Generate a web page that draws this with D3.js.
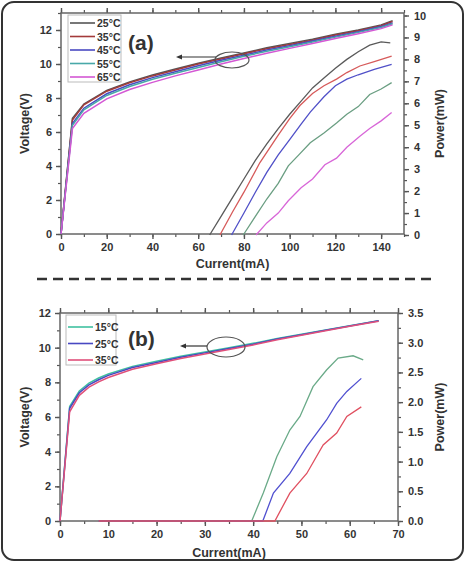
<!DOCTYPE html>
<html>
<head>
<meta charset="utf-8">
<script src="https://cdn.jsdelivr.net/npm/d3@7"></script>
<style>
  body { margin: 0; background: #fff; }
  text { font-family: "Liberation Sans", Arial, sans-serif; font-weight: bold; fill: #333; }
</style>
</head>
<body>
<div id="chart"></div>
<script>
// ---- panel (a) data ----
const topCurrent = [0, 5, 10, 20, 30, 40, 50, 60, 70, 80, 90, 100, 110, 120, 130, 140, 145];
const topV25 = [0, 6.8, 7.65, 8.45, 8.95, 9.35, 9.7, 10.05, 10.35, 10.65, 10.95, 11.2, 11.45, 11.75, 12.0, 12.3, 12.55];
const topV35 = [0, 6.7, 7.6, 8.4, 8.9, 9.3, 9.65, 10.0, 10.3, 10.6, 10.9, 11.15, 11.4, 11.7, 11.95, 12.25, 12.5];
const topV45 = [0, 6.5, 7.4, 8.25, 8.78, 9.2, 9.55, 9.9, 10.22, 10.52, 10.82, 11.08, 11.35, 11.63, 11.9, 12.2, 12.42];
const topV55 = [0, 6.4, 7.3, 8.15, 8.68, 9.1, 9.45, 9.8, 10.13, 10.45, 10.75, 11.02, 11.3, 11.58, 11.86, 12.15, 12.37];
const topV65 = [0, 6.2, 7.1, 7.95, 8.5, 8.92, 9.3, 9.65, 10.0, 10.32, 10.63, 10.92, 11.2, 11.5, 11.78, 12.08, 12.3];

// [current, power]
const topP25 = [[65,0],[70,0.85],[75,1.7],[80,2.55],[85,3.4],[90,4.15],[95,4.85],[100,5.5],[105,6.1],[110,6.7],[115,7.15],[120,7.6],[125,8.0],[130,8.35],[135,8.65],[140,8.8],[144,8.75]];
const topP35 = [[69.5,0],[75,1.05],[80,1.95],[87,3.3],[95,4.55],[100,5.3],[104.5,5.9],[110,6.45],[115,6.8],[120.5,7.1],[125,7.4],[130.7,7.7],[137,7.9],[144.6,8.15]];
const topP45 = [[74.6,0],[80,1.0],[85,1.95],[90,2.85],[95,3.65],[100,4.35],[105,5.05],[109,5.6],[115,6.3],[120,6.8],[125,7.1],[130,7.3],[137,7.55],[144.6,7.77]];
const topP55 = [[79.7,0],[85,0.85],[90,1.64],[95,2.35],[99.4,3.15],[104,3.65],[109,4.2],[115,4.65],[120.5,5.1],[125,5.5],[130,5.85],[135,6.4],[140,6.65],[144.6,6.94]];
const topP65 = [[85.3,0],[90,0.55],[95,1.0],[99.4,1.56],[105,2.15],[110,2.55],[115.4,3.2],[120.5,3.5],[125,4.0],[130.7,4.5],[135,4.85],[140,5.2],[144.6,5.58]];
const topLabels = ["25°C", "35°C", "45°C", "55°C", "65°C"];

// ---- panel (b) data ----
const botCurrent = [0, 2, 4, 6, 8, 10, 15, 20, 25, 30, 35, 40, 45, 50, 55, 60, 66];
const botV15 = [0, 6.6, 7.5, 7.95, 8.25, 8.48, 8.92, 9.22, 9.5, 9.75, 10.0, 10.25, 10.53, 10.78, 11.02, 11.27, 11.56];
const botV25 = [0, 6.5, 7.4, 7.85, 8.15, 8.4, 8.85, 9.15, 9.45, 9.7, 9.95, 10.2, 10.5, 10.75, 11.0, 11.25, 11.55];
const botV35 = [0, 6.3, 7.25, 7.72, 8.03, 8.28, 8.75, 9.07, 9.37, 9.63, 9.9, 10.16, 10.46, 10.72, 10.97, 11.23, 11.53];

const botP15 = [[8,0],[39.7,0],[42.1,0.47],[44.9,1.08],[47.6,1.53],[49.7,1.76],[52.4,2.26],[55.2,2.54],[57.6,2.74],[60.7,2.78],[62.8,2.71]];
const botP25 = [[8,0],[42,0],[44.2,0.47],[47.6,0.8],[51.1,1.25],[55.2,1.7],[57.3,1.98],[59.4,2.18],[62.4,2.4]];
const botP35 = [[8,0],[44.5,0],[47.6,0.47],[51.1,0.8],[54.5,1.28],[57.3,1.48],[59.4,1.76],[62.4,1.92]];
const botLabels = ["15°C", "25°C", "35°C"];

const topXTicks = [0, 20, 40, 60, 80, 100, 120, 140];
const topYTicks = [0, 2, 4, 6, 8, 10, 12];
const topPTicks = [0, 1, 2, 3, 4, 5, 6, 7, 8, 9, 10];
const botXTicks = [0, 10, 20, 30, 40, 50, 60, 70];
const botYTicks = [0, 2, 4, 6, 8, 10, 12];
const botPTicks = [0, 0.5, 1, 1.5, 2, 2.5, 3, 3.5];

var W = 469, H = 563;
var svg = d3.select("#chart").append("svg").attr("width", W).attr("height", H);

// outer rounded frame
svg.append("rect")
  .attr("x", 2).attr("y", 2).attr("width", 461).attr("height", 558)
  .attr("rx", 12).attr("fill", "none").attr("stroke", "#333").attr("stroke-width", 2);

// dashed separator
svg.append("line")
  .attr("x1", 37).attr("x2", 436).attr("y1", 279).attr("y2", 279)
  .attr("stroke", "#333").attr("stroke-width", 2.5).attr("stroke-dasharray", "10,6");

function drawPanel(p) {
  var x = d3.scaleLinear().domain(p.xDomain).range(p.xRange);
  var yL = d3.scaleLinear().domain(p.yDomain).range(p.yRange);
  var yR = d3.scaleLinear().domain(p.pDomain).range(p.pRange);
  var g = svg.append("g");
  var x0 = p.xRange[0], x1 = p.xRange[1], y0 = p.yRange[0], y1 = p.yRange[1];

  // minor ticks
  function minor(axis, scale, step, size) {
    var d = scale.domain(), vals = [];
    for (var v = d[0]; v <= d[1] + 1e-9; v += step) vals.push(v);
    return axis(scale).tickValues(vals).tickSize(size).tickFormat("");
  }
  var axes = [
    [d3.axisBottom, x, p.xMinor, 3, "translate(0," + y0 + ")"],
    [d3.axisBottom, x, p.xMinor, -3, "translate(0," + y1 + ")"],
    [d3.axisLeft, yL, p.yMinor, 3, "translate(" + x0 + ",0)"],
    [d3.axisRight, yR, p.pMinor, 3, "translate(" + x1 + ",0)"]
  ];
  axes.forEach(function (a) {
    var ag = g.append("g").attr("transform", a[4]).call(minor(a[0], a[1], a[2], a[3]));
    ag.select(".domain").remove();
    ag.selectAll("line").attr("stroke", "#555").attr("stroke-width", 1.2);
  });

  var xb = g.append("g").attr("transform", "translate(0," + y0 + ")")
    .call(d3.axisBottom(x).tickValues(p.xTicks).tickSize(5).tickPadding(4));
  var xt = g.append("g").attr("transform", "translate(0," + y1 + ")")
    .call(d3.axisBottom(x).tickValues(p.xTicks).tickSize(-5).tickFormat(""));
  var yl = g.append("g").attr("transform", "translate(" + x0 + ",0)")
    .call(d3.axisLeft(yL).tickValues(p.yTicks).tickSize(5).tickPadding(4));
  var yr = g.append("g").attr("transform", "translate(" + x1 + ",0)")
    .call(d3.axisRight(yR).tickValues(p.pTicks).tickSize(5).tickPadding(5).tickFormat(p.pFormat));
  [xb, xt, yl, yr].forEach(function (a) {
    a.select(".domain").remove();
    a.selectAll("line").attr("stroke", "#555").attr("stroke-width", 1.4);
    a.selectAll("text").attr("font-size", 11).attr("fill", "#333")
      .attr("font-family", "Liberation Sans, Arial, sans-serif").attr("font-weight", "bold");
  });

  // plot frame
  g.append("rect").attr("x", x0).attr("y", y1).attr("width", x1 - x0).attr("height", y0 - y1)
    .attr("fill", "none").attr("stroke", "#666").attr("stroke-width", 1.5);

  var powerLine = d3.line().x(function (d) { return x(d[0]) }).y(function (d) { return yR(d[1]) });
  p.power.forEach(function (s, i) {
    g.append("path").datum(s).attr("d", powerLine)
      .attr("fill", "none").attr("stroke", p.pColors[i]).attr("stroke-width", 1.3);
  });

  var vLine = d3.line().x(function (d) { return x(d[0]) }).y(function (d) { return yL(d[1]) });
  p.voltage.forEach(function (s, i) {
    var pts = p.current.map(function (c, k) { return [c, s[k]] });
    g.append("path").datum(pts).attr("d", vLine)
      .attr("fill", "none").attr("stroke", p.vColors[i]).attr("stroke-width", 1.5);
  });

  // legend
  var lg = p.legend;
  g.append("rect").attr("x", lg.x).attr("y", lg.y).attr("width", lg.w).attr("height", lg.h)
    .attr("fill", "#fff").attr("stroke", "#bbb").attr("stroke-width", 1);
  p.labels.forEach(function (t, i) {
    var yy = lg.y + lg.first + i * lg.step;
    g.append("line").attr("x1", lg.x + 2).attr("x2", lg.x + 27).attr("y1", yy).attr("y2", yy)
      .attr("stroke", p.vColors[i]).attr("stroke-width", 1.6);
    g.append("text").attr("x", lg.x + 29).attr("y", yy + 4).attr("font-size", 10.5).text(t);
  });

  // panel tag
  g.append("text").attr("x", p.tag.x).attr("y", p.tag.y).attr("font-size", 21).text(p.tag.t);

  // arrow + ellipse
  g.append("ellipse").attr("cx", p.ell.cx).attr("cy", p.ell.cy).attr("rx", p.ell.rx).attr("ry", p.ell.ry)
    .attr("fill", "none").attr("stroke", "#555").attr("stroke-width", 1.2);
  g.append("line").attr("x1", p.arrow.x1).attr("x2", p.arrow.x2 + 4).attr("y1", p.arrow.y).attr("y2", p.arrow.y)
    .attr("stroke", "#333").attr("stroke-width", 1.2);
  g.append("path")
    .attr("d", "M" + p.arrow.x2 + "," + p.arrow.y + "l6,-2.5l0,5z").attr("fill", "#333");

  // axis titles
  g.append("text").attr("x", (x0 + x1) / 2).attr("y", p.xTitleY).attr("text-anchor", "middle")
    .attr("font-size", 12.5).text("Current(mA)");
  g.append("text").attr("transform", "translate(" + 29 + "," + (y0 + y1) / 2 + ") rotate(-90)")
    .attr("text-anchor", "middle").attr("font-size", 12.5).text("Voltage(V)");
  g.append("text").attr("transform", "translate(" + 444 + "," + (y0 + y1) / 2 + ") rotate(-90)")
    .attr("text-anchor", "middle").attr("font-size", 12.5).text("Power(mW)");
}

drawPanel({
  xDomain: [0, 150], xRange: [61, 404],
  yDomain: [0, 13], yRange: [234, 13],
  pDomain: [0, 10], pRange: [235, 15.5],
  xTicks: topXTicks, yTicks: topYTicks, pTicks: topPTicks,
  xMinor: 10, yMinor: 1, pMinor: 0.5,
  pFormat: d3.format("d"),
  current: topCurrent,
  voltage: [topV25, topV35, topV45, topV55, topV65],
  power: [topP25, topP35, topP45, topP55, topP65],
  vColors: ["#555", "#a33a3a", "#4a4ac2", "#48a8a8", "#d458d4"],
  pColors: ["#5a5a5a", "#d65a5a", "#5050c8", "#6a9e82", "#d866d8"],
  labels: topLabels,
  legend: { x: 68, y: 15, w: 53, h: 67, first: 8, step: 13.5 },
  tag: { x: 128, y: 50, t: "(a)" },
  ell: { cx: 232, cy: 60, rx: 17, ry: 8 },
  arrow: { x1: 216, x2: 176, y: 57 },
  xTitleY: 268
});

drawPanel({
  xDomain: [0, 70], xRange: [60, 398],
  yDomain: [0, 12], yRange: [521, 313],
  pDomain: [0, 3.5], pRange: [521, 313],
  xTicks: botXTicks, yTicks: botYTicks, pTicks: botPTicks,
  xMinor: 5, yMinor: 1, pMinor: 0.25,
  pFormat: d3.format(".1f"),
  current: botCurrent,
  voltage: [botV15, botV25, botV35],
  power: [botP15, botP25, botP35],
  vColors: ["#3fc0a0", "#4848c2", "#e0507a"],
  pColors: ["#6aaa88", "#5050d0", "#e05060"],
  labels: botLabels,
  legend: { x: 66, y: 315, w: 50, h: 50, first: 12, step: 16.5 },
  tag: { x: 128, y: 346, t: "(b)" },
  ell: { cx: 226, cy: 347, rx: 19, ry: 10 },
  arrow: { x1: 207, x2: 180, y: 346 },
  xTitleY: 557
});
</script>
</body>
</html>
